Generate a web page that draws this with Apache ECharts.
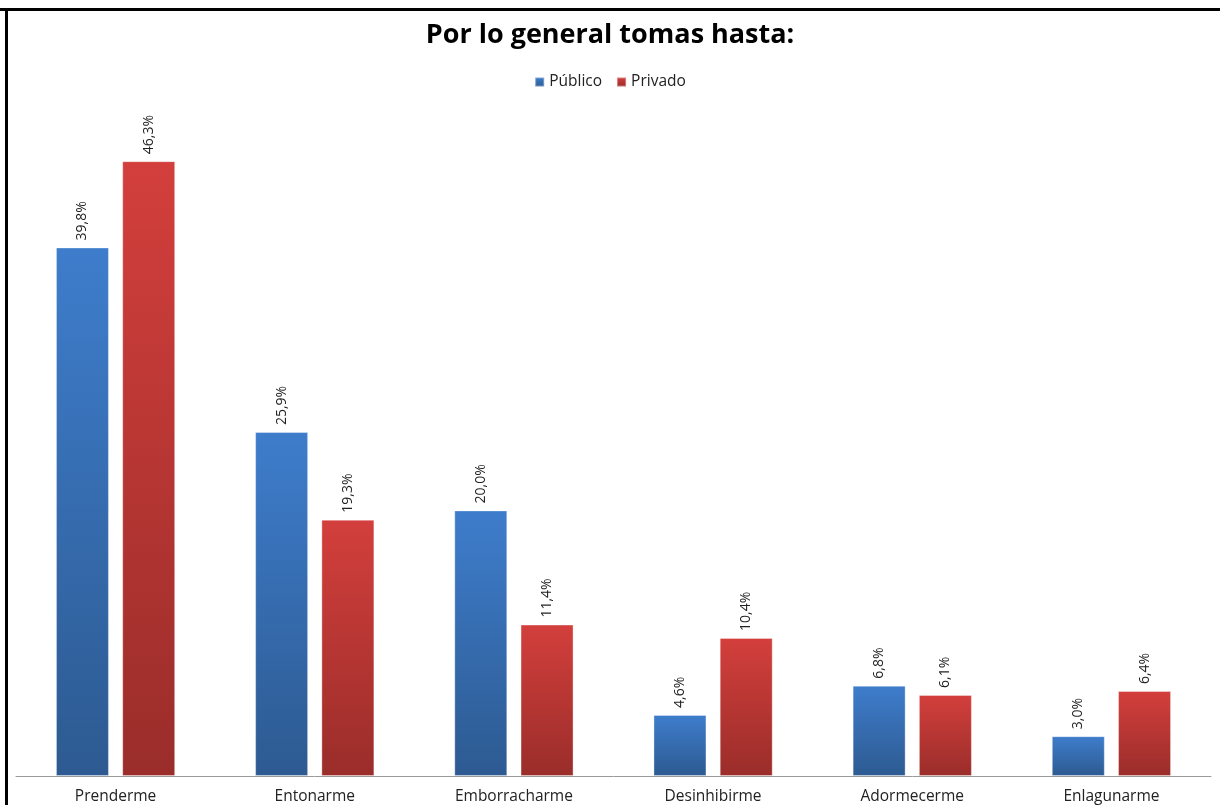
<!DOCTYPE html>
<html>
<head>
    <title>Por lo general tomas hasta</title>
    <meta charset="utf-8">
    <script src="https://cdn.jsdelivr.net/npm/echarts@6/dist/echarts.min.js"></script>
    <style>
        html, body { margin: 0; padding: 0; background: #fff; }
    </style>
</head>
<body>
    <div id="main" style="width: 1220px;height:805px;"></div>
    <script type="text/javascript">
        // data
        var categories = ['Prenderme', 'Entonarme', 'Emborracharme', 'Desinhibirme', 'Adormecerme', 'Enlagunarme'];
        var publico = [39.8, 25.9, 20.0, 4.6, 6.8, 3.0];
        var privado = [46.3, 19.3, 11.4, 10.4, 6.1, 6.4];

        var font = 'Open Sans';

        function grad(top, bottom) {
            return new echarts.graphic.LinearGradient(0, 0, 0, 1, [
                { offset: 0, color: top },
                { offset: 1, color: bottom }
            ]);
        }

        function pct(p) {
            return p.value.toFixed(1).replace('.', ',') + '%';
        }

        var barLabel = {
            show: true,
            position: 'top',
            rotate: 90,
            align: 'left',
            verticalAlign: 'middle',
            distance: 7,
            color: '#222',
            fontFamily: font,
            fontSize: 14,
            formatter: pct
        };

        var myChart = echarts.init(document.getElementById('main'));

        var option = {
            backgroundColor: '#fff',
            animation: false,
            title: {
                text: 'Por lo general tomas hasta:',
                left: 'center',
                top: 17,
                textStyle: { fontFamily: font, fontSize: 27, fontWeight: 'bold', color: '#000' }
            },
            legend: {
                data: ['Público', 'Privado'],
                top: 69,
                left: 'center',
                icon: 'rect',
                itemWidth: 9,
                itemHeight: 9,
                itemGap: 14,
                textStyle: { fontFamily: font, fontSize: 15.5, color: '#222' }
            },
            grid: { left: 16, right: 9, top: 112, bottom: 28 },
            xAxis: {
                type: 'category',
                data: categories,
                axisTick: { show: false },
                axisLine: { lineStyle: { color: '#999', width: 1 } },
                axisLabel: { fontFamily: font, fontSize: 15.5, color: '#222', margin: 13 }
            },
            yAxis: {
                type: 'value',
                min: 0,
                max: 50,
                show: false,
                splitLine: { show: false }
            },
            series: [{
                name: 'Público',
                type: 'bar',
                barWidth: 53,
                barGap: '25%',
                itemStyle: { color: grad('#3E7DCC', '#2D5A91'), borderColor: 'rgba(255,255,255,0.35)', borderWidth: 1 },
                label: barLabel,
                data: publico
            }, {
                name: 'Privado',
                type: 'bar',
                barWidth: 53,
                itemStyle: { color: grad('#D33F3C', '#9A2D2A'), borderColor: 'rgba(255,255,255,0.35)', borderWidth: 1 },
                label: barLabel,
                data: privado
            }],
            graphic: [
                { type: 'rect', shape: { x: 0, y: 8, width: 1220, height: 3 }, style: { fill: '#000' } },
                { type: 'rect', shape: { x: 5, y: 8, width: 3, height: 797 }, style: { fill: '#000' } }
            ]
        };

        myChart.setOption(option);
    </script>
</body>
</html>
